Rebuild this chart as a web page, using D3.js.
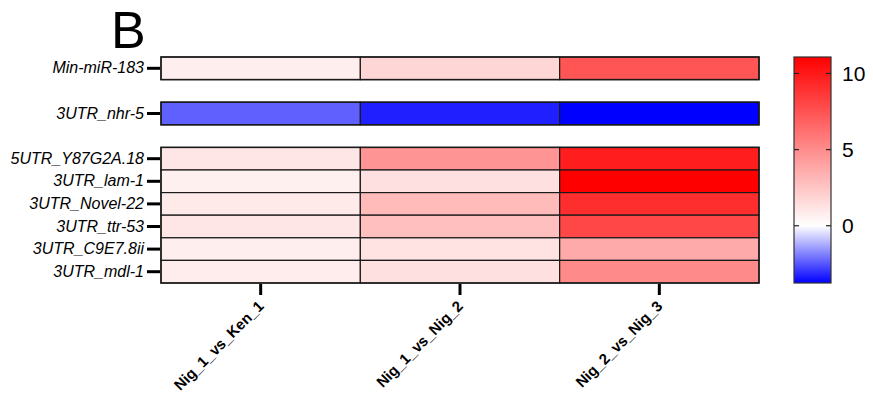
<!DOCTYPE html>
<html>
<head>
<meta charset="utf-8">
<script src="https://cdn.jsdelivr.net/npm/d3@7"></script>
<style>
  html, body { margin: 0; padding: 0; background: #fff; }
  svg { display: block; font-family: "Liberation Sans", Arial, sans-serif; }
</style>
</head>
<body>
<svg id="chart" width="873" height="394"></svg>
<script>
// Comparisons (columns)
const comparisons = ["Nig_1_vs_Ken_1", "Nig_1_vs_Nig_2", "Nig_2_vs_Nig_3"];

// Feature groups (rows), drawn as separate blocks
const groupMirna = ["Min-miR-183"];
const groupDown = ["3UTR_nhr-5"];
const groupUp = ["5UTR_Y87G2A.18", "3UTR_lam-1", "3UTR_Novel-22", "3UTR_ttr-53", "3UTR_C9E7.8ii", "3UTR_mdl-1"];

// Log fold-change values per row, one per comparison
const valMinMiR183 = [0.75, 1.8, 7.4];
const valNhr5 = [-2.35, -3.3, -3.76];
const valY87G2A18 = [1.1, 4.65, 9.8];
const valLam1 = [0.65, 1.35, 11.08];
const valNovel22 = [0.9, 3.0, 9.1];
const valTtr53 = [1.1, 2.8, 8.0];
const valC9E78ii = [0.74, 1.26, 3.7];
const valMdl1 = [0.8, 1.35, 5.1];

// Colour bar ticks
const legendTicks = [0, 5, 10];

const rowValues = new Map([
  ["Min-miR-183", valMinMiR183],
  ["3UTR_nhr-5", valNhr5],
  ["5UTR_Y87G2A.18", valY87G2A18],
  ["3UTR_lam-1", valLam1],
  ["3UTR_Novel-22", valNovel22],
  ["3UTR_ttr-53", valTtr53],
  ["3UTR_C9E7.8ii", valC9E78ii],
  ["3UTR_mdl-1", valMdl1]
]);

const groups = [groupMirna, groupDown, groupUp];

// Build the band domain with one blank slot between groups
const slots = [];
groups.forEach((g, i) => {
  if (i > 0) slots.push("__gap" + i);
  g.forEach(r => slots.push(r));
});

const cells = [];
groups.forEach(g => g.forEach(r => {
  rowValues.get(r).forEach((v, j) => cells.push({ row: r, col: comparisons[j], value: v }));
}));

const svg = d3.select("#chart");

const plotLeft = 161, plotRight = 759, plotTop = 57, plotBottom = 283;

const x = d3.scaleBand().domain(comparisons).range([plotLeft, plotRight]);
const y = d3.scaleBand().domain(slots).range([plotTop, plotBottom]);

const extent = d3.extent(cells, d => d.value);
const color = d3.scaleLinear()
  .domain([extent[0], 0, extent[1]])
  .range(["#0000ff", "#ffffff", "#ff0000"]);

// Title
svg.append("text")
  .attr("x", 111).attr("y", 48)
  .attr("font-size", 52)
  .attr("fill", "#000")
  .text("B");

// Heatmap cells
svg.append("g").selectAll("rect")
  .data(cells)
  .join("rect")
  .attr("x", d => x(d.col))
  .attr("y", d => y(d.row))
  .attr("width", x.bandwidth())
  .attr("height", y.bandwidth())
  .attr("fill", d => color(d.value))
  .attr("stroke", "#1a1a1a")
  .attr("stroke-width", 1.2);

// Outer outline per group
svg.append("g").selectAll("rect")
  .data(groups)
  .join("rect")
  .attr("x", plotLeft)
  .attr("y", g => y(g[0]))
  .attr("width", plotRight - plotLeft)
  .attr("height", g => y(g[g.length - 1]) + y.bandwidth() - y(g[0]))
  .attr("fill", "none")
  .attr("stroke", "#1a1a1a")
  .attr("stroke-width", 1.5);

// Row axis
const yAxis = d3.axisLeft(y)
  .tickValues(groups.flat())
  .tickSize(13)
  .tickPadding(3);
const gy = svg.append("g")
  .attr("transform", `translate(${plotLeft - 1},0)`)
  .call(yAxis);
gy.select(".domain").remove();
gy.selectAll(".tick line").attr("stroke", "#000").attr("stroke-width", 3);
gy.selectAll(".tick text")
  .attr("font-size", 16)
  .attr("font-style", "italic")
  .attr("font-family", "'Liberation Sans', Arial, sans-serif")
  .attr("fill", "#000");

// Column axis
const xAxis = d3.axisBottom(x).tickSize(11).tickPadding(4);
const gx = svg.append("g")
  .attr("transform", `translate(0,${plotBottom + 1})`)
  .call(xAxis);
gx.select(".domain").remove();
gx.selectAll(".tick line").attr("stroke", "#000").attr("stroke-width", 3);
gx.selectAll(".tick text")
  .attr("font-size", 15)
  .attr("font-weight", "bold")
  .attr("font-family", "'Liberation Sans', Arial, sans-serif")
  .attr("fill", "#000")
  .attr("text-anchor", "end")
  .attr("x", 0).attr("y", 0).attr("dy", 0)
  .attr("transform", "translate(4,23) rotate(-45)");

// Colour bar
const cbX = 794, cbW = 37;
const cbScale = d3.scaleLinear().domain(extent).range([plotBottom, plotTop]);

const defs = svg.append("defs");
const grad = defs.append("linearGradient")
  .attr("id", "cbgrad")
  .attr("x1", 0).attr("x2", 0).attr("y1", 1).attr("y2", 0);
const zeroFrac = (0 - extent[0]) / (extent[1] - extent[0]);
grad.selectAll("stop")
  .data([
    { o: 0, c: color(extent[0]) },
    { o: zeroFrac, c: color(0) },
    { o: 1, c: color(extent[1]) }
  ])
  .join("stop")
  .attr("offset", d => d.o)
  .attr("stop-color", d => d.c);

svg.append("rect")
  .attr("x", cbX).attr("y", plotTop)
  .attr("width", cbW).attr("height", plotBottom - plotTop)
  .attr("fill", "url(#cbgrad)")
  .attr("stroke", "#333")
  .attr("stroke-width", 1.2);

// Inward ticks on both edges of the bar
const cbTicks = svg.append("g");
cbTicks.selectAll("line.l")
  .data(legendTicks)
  .join("line")
  .attr("class", "l")
  .attr("x1", cbX).attr("x2", cbX + 5)
  .attr("y1", d => cbScale(d)).attr("y2", d => cbScale(d))
  .attr("stroke", "#222").attr("stroke-width", 1.2);
cbTicks.selectAll("line.r")
  .data(legendTicks)
  .join("line")
  .attr("class", "r")
  .attr("x1", cbX + cbW - 5).attr("x2", cbX + cbW)
  .attr("y1", d => cbScale(d)).attr("y2", d => cbScale(d))
  .attr("stroke", "#222").attr("stroke-width", 1.2);
cbTicks.selectAll("text")
  .data(legendTicks)
  .join("text")
  .attr("x", cbX + cbW + 11)
  .attr("y", d => cbScale(d))
  .attr("dy", "0.36em")
  .attr("font-size", 21)
  .attr("fill", "#000")
  .text(d => d);
</script>
</body>
</html>
